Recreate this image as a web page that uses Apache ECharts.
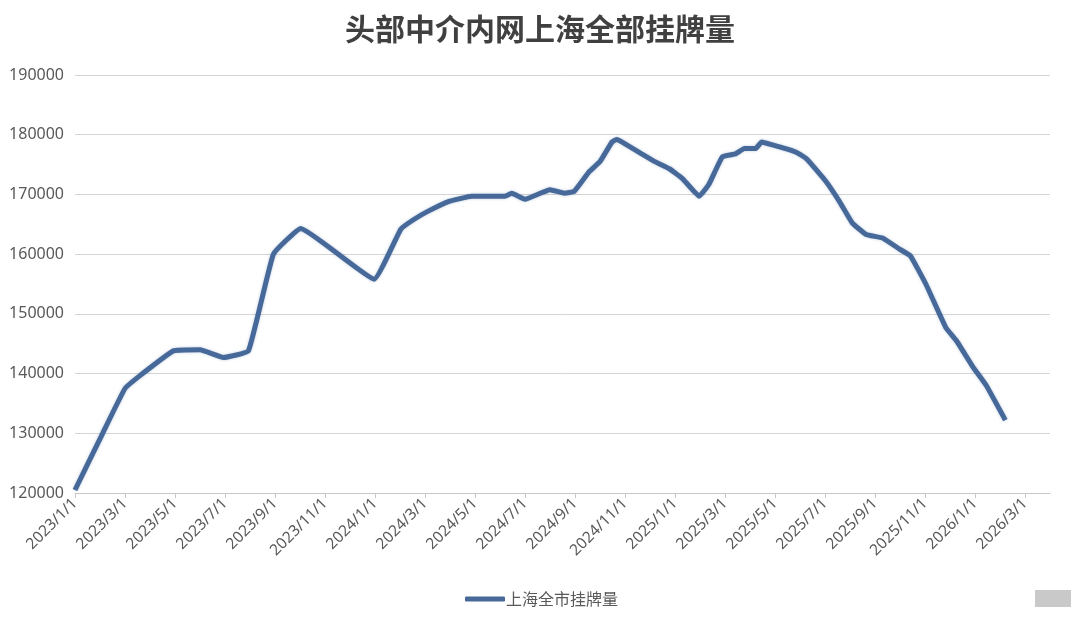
<!DOCTYPE html>
<html>
<head>
<meta charset="utf-8">
<script src="https://cdn.jsdelivr.net/npm/echarts@6/dist/echarts.min.js"></script>
<style>
html,body{margin:0;padding:0;background:#fff;}
#chart{width:1080px;height:624px;}
</style>
</head>
<body>
<div id="chart"></div>
<script>
const title = '头部中介内网上海全部挂牌量';
const seriesName = '上海全市挂牌量';
const startYear = 2023;
const dates = [
 '2023-01-01','2023-02-04','2023-03-01','2023-03-20','2023-04-29','2023-06-01','2023-06-29','2023-07-30',
 '2023-08-30','2023-10-02','2023-12-31','2024-02-02','2024-02-17','2024-03-05','2024-03-30','2024-04-27',
 '2024-06-07','2024-06-15','2024-07-01','2024-08-01','2024-08-19','2024-08-31','2024-09-18','2024-10-01',
 '2024-10-16','2024-10-22','2024-10-28','2024-11-21','2024-12-07','2024-12-25','2025-01-10','2025-01-31',
 '2025-02-11','2025-02-26','2025-03-14','2025-03-25','2025-04-08','2025-04-15','2025-04-28','2025-05-23',
 '2025-06-01','2025-06-10','2025-07-02','2025-07-19','2025-08-04','2025-08-21','2025-09-10','2025-10-01',
 '2025-10-14','2025-11-02','2025-11-26','2025-12-09','2025-12-30','2026-01-15','2026-02-07'
];
const listings = [
 120500,130000,137500,139700,143800,144000,142700,143800,
 160000,164300,155800,164200,165800,167200,168800,169700,
 169700,170200,169200,170800,170200,170500,173800,175500,
 178800,179200,178800,176800,175500,174300,172700,169700,
 171700,176300,176800,177700,177700,178800,178300,177300,
 176700,175800,172200,168800,165200,163300,162700,160800,
 159700,155000,147700,145500,141000,138000,132200
];
const yTicks = [120000,130000,140000,150000,160000,170000,180000,190000];

function monthIndex(s){
  const [y,m,d] = s.split('-').map(Number);
  const dim = new Date(y, m, 0).getDate();
  return (y-startYear)*12 + (m-1) + (d-1)/dim;
}
function monthLabel(v){
  if (Math.abs(v - Math.round(v)) > 1e-6 || Math.round(v) % 2 !== 0) return '';
  const r = Math.round(v);
  return (startYear + Math.floor(r/12)) + '/' + (r%12 + 1) + '/1';
}
const data = dates.map((d,i)=>[monthIndex(d), listings[i]]);

const chart = echarts.init(document.getElementById('chart'), null, {renderer:'canvas'});
chart.setOption({
  backgroundColor:'#ffffff',
  animation:false,
  title:{
    text:title, left:'center', top:9,
    textStyle:{fontFamily:'Noto Sans CJK SC', fontSize:30, fontWeight:'bold', color:'#404040'}
  },
  legend:{
    data:[{name:seriesName, icon:'roundRect'}], left:460, top:586, itemWidth:40, itemHeight:5, itemGap:4,
    textStyle:{fontFamily:'Noto Sans CJK SC', fontSize:16, color:'#595959', padding:[0,0,0,-4]}
  },
  grid:{left:75, right:30, top:75, bottom:131, containLabel:false},
  xAxis:{
    type:'value', min:0, max:39, interval:2,
    axisLine:{show:true, lineStyle:{color:'#c8c8c8', width:1}},
    axisTick:{show:true, length:5, lineStyle:{color:'#c8c8c8'}},
    splitLine:{show:false},
    axisLabel:{
      rotate:45, fontSize:15.5, color:'#595959', fontFamily:'Noto Sans', margin:8,
      formatter:monthLabel, showMaxLabel:false
    }
  },
  yAxis:{
    type:'value', min:yTicks[0], max:yTicks[yTicks.length-1], interval:10000,
    axisLine:{show:false}, axisTick:{show:false},
    splitLine:{lineStyle:{color:'#d4d4d4', width:1}},
    axisLabel:{fontSize:16, color:'#595959', fontFamily:'Noto Sans', margin:11, formatter:v=>String(v)}
  },
  series:[{
    name:seriesName, type:'line', data:data, symbol:'none', smooth:0.1,
    lineStyle:{color:'#46699a', width:5, shadowColor:'rgba(70,105,154,0.35)', shadowBlur:3},
    itemStyle:{color:'#46699a'}
  }],
  graphic:[
    {type:'rect', left:1035, top:590, shape:{width:36, height:17}, style:{fill:'#c9c9c9'}}
  ]
});
</script>
</body>
</html>
